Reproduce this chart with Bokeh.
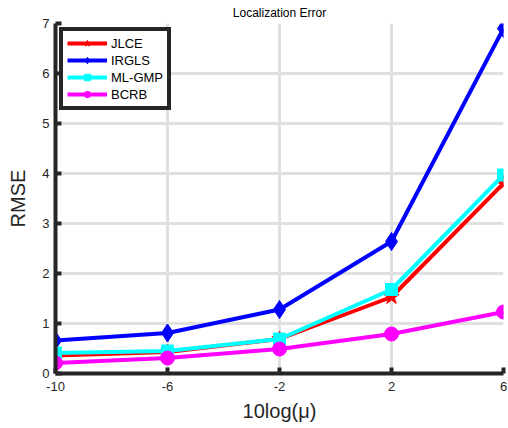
from bokeh.plotting import figure
from bokeh.models import Range1d, FixedTicker, Legend, LegendItem
from bokeh.embed import file_html
from bokeh.resources import INLINE

x_vals = [-10, -6, -2, 2, 6]
jlce = [0.36, 0.43, 0.69, 1.53, 3.80]
irgls = [0.66, 0.81, 1.28, 2.64, 6.90]
mlgmp = [0.41, 0.45, 0.69, 1.68, 3.97]
bcrb = [0.21, 0.31, 0.49, 0.79, 1.23]
series_names = ["JLCE", "IRGLS", "ML-GMP", "BCRB"]
x_ticks = [-10, -6, -2, 2, 6]
x_tick_labels = ["-10", "-6", "-2", "2", "6"]
y_ticks = [0, 1, 2, 3, 4, 5, 6, 7]

FONT = "Liberation Sans"

p = figure(width=508, height=428, output_backend="svg", toolbar_location=None,
           x_range=Range1d(-10, 6), y_range=Range1d(0, 7),
           min_border_left=55, min_border_right=5, min_border_top=8,
           min_border_bottom=55, title="Localization Error")

p.title.text_font = FONT
p.title.text_font_size = "12px"
p.title.text_font_style = "normal"
p.title.align = "center"
p.title.text_color = "#000000"
p.title.offset = 30
p.title.standoff = 7

p.outline_line_color = None
p.background_fill_color = "white"
p.border_fill_color = "white"

for g in (p.xgrid, p.ygrid):
    g.grid_line_color = "#e0e0e0"
    g.grid_line_width = 3

p.xaxis.ticker = FixedTicker(ticks=x_ticks)
p.xaxis.major_label_overrides = {t: s for t, s in zip(x_ticks, x_tick_labels)}
p.yaxis.ticker = FixedTicker(ticks=y_ticks)
for ax in (p.xaxis, p.yaxis):
    ax.axis_line_width = 4
    ax.axis_line_color = "#262626"
    ax.major_tick_line_color = "#262626"
    ax.major_tick_line_width = 4
    ax.major_tick_in = 6
    ax.major_tick_out = 0
    ax.minor_tick_line_color = None
    ax.major_label_text_font = FONT
    ax.major_label_text_font_size = "13px"
    ax.major_label_text_color = "#262626"
    ax.axis_label_text_font = FONT
    ax.axis_label_text_font_size = "20px"
    ax.axis_label_text_font_style = "normal"
    ax.axis_label_text_color = "#262626"
p.xaxis.axis_label = "10log(μ)"
p.yaxis.axis_label = "RMSE"
p.xaxis.major_label_standoff = 8
p.yaxis.major_label_standoff = 6
p.xaxis.axis_label_standoff = 6
p.yaxis.axis_label_standoff = 10

specs = [
    (jlce, "#ff0000", "star", 16),
    (irgls, "#0000ff", "diamond", 18),
    (mlgmp, "#00ffff", "square", 12),
    (bcrb, "#ff00ff", "circle", 14),
]
items = []
for name, (ys, color, marker, size) in zip(series_names, specs):
    l = p.line(x_vals, ys, line_color=color, line_width=4)
    m = p.scatter(x_vals, ys, marker=marker, size=size, fill_color=color, line_color=color)
    items.append(LegendItem(label=name, renderers=[l, m]))

legend = Legend(items=items, location="top_left")
legend.border_line_color = "#262626"
legend.border_line_alpha = 1.0
legend.border_line_width = 4
legend.label_text_font = FONT
legend.label_text_font_size = "13px"
legend.label_text_color = "#000000"
legend.glyph_width = 40
legend.glyph_height = 16
legend.label_height = 16
legend.spacing = 1
legend.padding = 4
legend.margin = 4
legend.label_standoff = 4
p.add_layout(legend)

open("out.html", "w").write(file_html(p, INLINE))
